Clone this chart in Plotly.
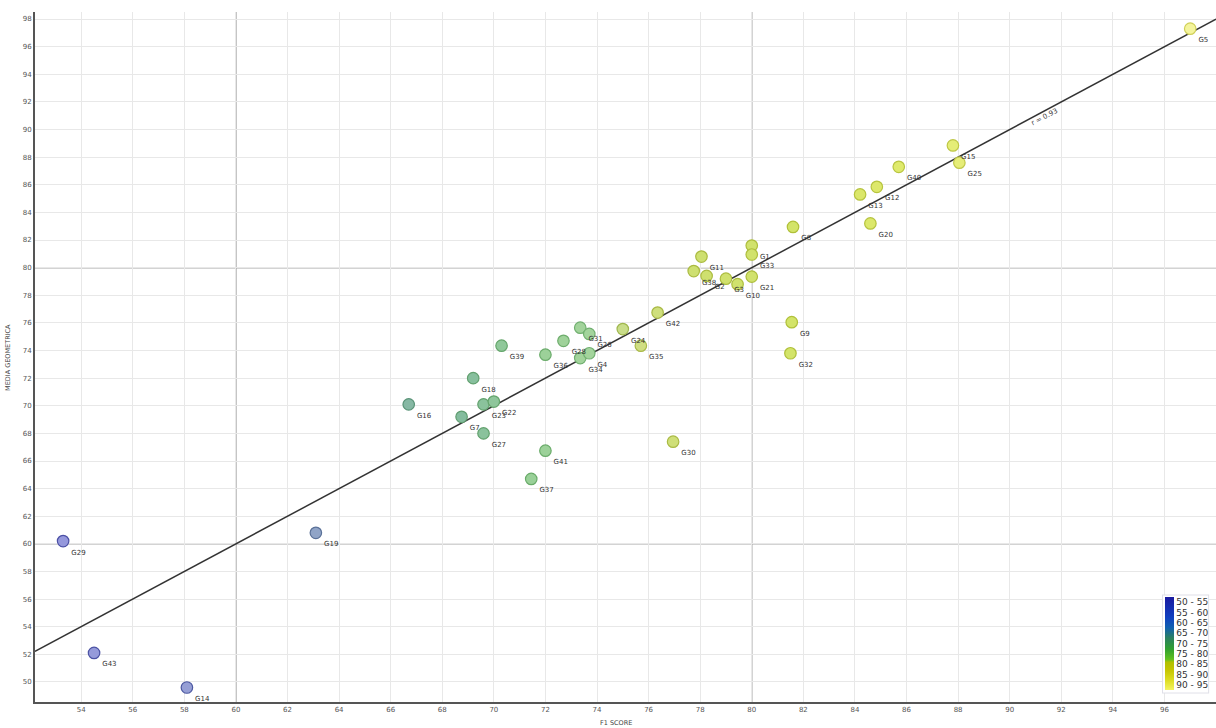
import plotly.graph_objects as go

# ---- data ----
labels = ["G29", "G43", "G14", "G19", "G16", "G7", "G18", "G23", "G22", "G27",
          "G39", "G41", "G37", "G36", "G28", "G31", "G26", "G34", "G4", "G24",
          "G35", "G42", "G30", "G11", "G38", "G2", "G3", "G10", "G1", "G33",
          "G21", "G8", "G9", "G32", "G13", "G12", "G20", "G40", "G15", "G25", "G5"]
f1_score = [53.3, 54.5, 58.1, 63.1, 66.7, 68.75, 69.2, 69.6, 70.0, 69.6,
            70.3, 72.0, 71.45, 72.0, 72.7, 73.35, 73.7, 73.35, 73.7, 75.0,
            75.7, 76.35, 76.95, 78.05, 77.75, 78.25, 79.0, 79.45, 80.0, 80.0,
            80.0, 81.6, 81.55, 81.5, 84.2, 84.85, 84.6, 85.7, 87.8, 88.05, 97.0]
media_geom = [60.2, 52.1, 49.6, 60.8, 70.1, 69.2, 72.0, 70.1, 70.3, 68.0,
              74.35, 66.75, 64.7, 73.7, 74.7, 75.65, 75.2, 73.45, 73.8, 75.55,
              74.35, 76.75, 67.4, 80.8, 79.75, 79.4, 79.2, 78.8, 81.6, 80.95,
              79.35, 82.95, 76.05, 73.8, 85.3, 85.85, 83.2, 87.3, 88.85, 87.6, 97.3]

# reference line y = x
ref_x = [52.21, 98.0]
ref_y = [52.21, 98.0]
ref_label = "r = 0.93"

legend_labels = ["50 - 55", "55 - 60", "60 - 65", "65 - 70", "70 - 75",
                 "75 - 80", "80 - 85", "85 - 90", "90 - 95"]

# ---- styling ----
fill_scale = [
    [0.00, "#9494e0"], [0.20, "#96a0d4"], [0.29, "#90a4c8"], [0.37, "#86b8a4"],
    [0.42, "#84bc9e"], [0.47, "#98d098"], [0.53, "#a4d49c"], [0.56, "#d0de86"],
    [0.62, "#cee070"], [0.71, "#d4e468"], [0.80, "#e0ea6c"], [0.89, "#ecf084"],
    [1.00, "#f4f49c"]]
line_scale = [
    [0.00, "#4a4aa8"], [0.20, "#4c5aa0"], [0.29, "#5a7098"], [0.37, "#5a9478"],
    [0.47, "#68aa68"], [0.53, "#72b070"], [0.56, "#a8b848"], [0.71, "#b0c038"],
    [1.00, "#d0d058"]]
legend_scale = [
    [0.00, "#f4f460"], [0.11, "#dcdc20"], [0.22, "#c4c400"], [0.30, "#b0c000"],
    [0.33, "#60c020"], [0.44, "#30a030"], [0.56, "#2a8060"], [0.67, "#1060b0"],
    [0.78, "#1040c0"], [1.00, "#1a1aa0"]]

fig = go.Figure()

fig.add_trace(go.Scatter(
    x=ref_x, y=ref_y, mode="lines",
    line=dict(color="#333333", width=1.5), hoverinfo="skip", showlegend=False))

fig.add_trace(go.Scatter(
    x=f1_score, y=media_geom, mode="markers+text",
    text=labels, textposition="bottom right",
    textfont=dict(family="DejaVu Sans", size=7, color="#333333"),
    marker=dict(size=11.5, color=f1_score, colorscale=fill_scale, cmin=50, cmax=95,
                line=dict(width=1.2, color=f1_score, colorscale=line_scale,
                          cmin=50, cmax=95)),
    showlegend=False))

# colour legend (drawn as a colour bar of a hidden trace)
n_bins = len(legend_labels)
fig.add_trace(go.Scatter(
    x=[None], y=[None], mode="markers", showlegend=False, hoverinfo="skip",
    marker=dict(color=[0], cmin=0, cmax=n_bins, colorscale=legend_scale,
                showscale=True,
                colorbar=dict(
                    x=0.955, xanchor="left", y=0.085, yanchor="middle",
                    len=0.14, lenmode="fraction", thickness=9,
                    outlinewidth=0, bgcolor="white", bordercolor="#e0e0e8",
                    borderwidth=1, xpad=2, ypad=2, ticks="",
                    tickvals=[n_bins - 0.5 - i for i in range(n_bins)],
                    ticktext=legend_labels,
                    tickfont=dict(family="DejaVu Sans", size=9, color="#333")))))

# major reference lines at 60 and 80
for v in (60, 80):
    fig.add_shape(type="line", xref="x", yref="paper", x0=v, x1=v, y0=0, y1=1,
                  line=dict(color="#a8a8a8", width=1.5), layer="below")
    fig.add_shape(type="line", xref="paper", yref="y", x0=0, x1=1, y0=v, y1=v,
                  line=dict(color="#a8a8a8", width=1.5), layer="below")

fig.add_annotation(x=91.2, y=91.2, text=ref_label, showarrow=False, textangle=-28,
                   yshift=-4, xshift=4,
                   font=dict(family="DejaVu Sans", size=7, color="#444"))

fig.add_annotation(xref="paper", yref="paper", x=0.492, y=-0.030, text="F1 SCORE",
                   showarrow=False, yanchor="middle",
                   font=dict(family="DejaVu Sans", size=6.5, color="#444"))
fig.add_annotation(xref="paper", yref="paper", x=-0.0229, y=0.5,
                   text="MEDIA GEOMETRICA", showarrow=False, textangle=-90,
                   xanchor="center", yanchor="middle",
                   font=dict(family="DejaVu Sans", size=6.5, color="#444"))

fig.update_layout(
    width=1216, height=728,
    margin=dict(l=35, r=0, t=12, b=26),
    paper_bgcolor="white", plot_bgcolor="white",
    font=dict(family="DejaVu Sans", size=7, color="#444"),
    xaxis=dict(range=[52.21, 98.0], dtick=2, tick0=0, showgrid=True,
               gridcolor="#e8e8e8", gridwidth=1, zeroline=False,
               showline=True, linecolor="#555", linewidth=2, ticks="",
               tickfont=dict(size=7, color="#555")),
    yaxis=dict(range=[48.55, 98.51], dtick=2, tick0=0, showgrid=True,
               gridcolor="#e8e8e8", gridwidth=1, zeroline=False,
               showline=True, linecolor="#555", linewidth=2, ticks="",
               tickfont=dict(size=7, color="#555")),
)

fig.write_html("out.html")
